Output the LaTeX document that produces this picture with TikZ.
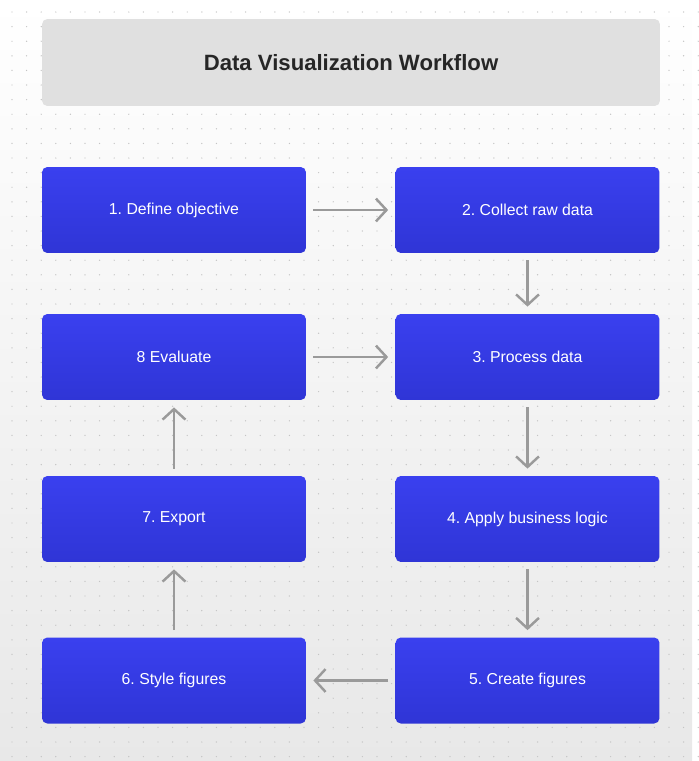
\documentclass[tikz,border=0pt]{standalone}
\usepackage{fontspec}
\usetikzlibrary{arrows.meta}
\newfontfamily\wffont{Liberation Sans}
\frenchspacing

\definecolor{stepblue}{HTML}{3A40EF}
\definecolor{stepbluedark}{HTML}{2F35D6}
\definecolor{titlegray}{HTML}{E0E0E0}
\definecolor{arrowgray}{HTML}{9A9A9A}
\definecolor{dotgray}{HTML}{C4C4C4}

\tikzset{
    stepbox/.style={rounded corners=3pt, top color=stepblue, bottom color=stepbluedark,
        draw=none, minimum width=5.28cm, minimum height=1.72cm, text=white,
        font=\wffont\fontsize{9}{11}\selectfont},
    flow/.style={draw=arrowgray, line width=1.4pt, shorten <=4pt, shorten >=4pt,
        -{Straight Barb[length=6pt, width=13pt, line width=1.4pt]}}
}

\begin{document}
\begin{tikzpicture}[x=0.02cm, y=-0.02cm]
            % background
            \shade[top color=white, bottom color=black!9] (0,0) rectangle (692,761);
            \foreach \i in {0,...,47} {
                \foreach \j in {0,...,51} {
                    \fill[dotgray] (12+14.6*\i, 12+14.6*\j) circle (0.7);
                }
            }
            \useasboundingbox (0,0) rectangle (692,761);

            % title
            \node[fill=titlegray, rounded corners=3pt, minimum width=12.36cm, minimum height=1.74cm,
                font=\wffont\bfseries\fontsize{12.6}{15}\selectfont, text=black!85] (title) at (351, 62.5) {Data Visualization Workflow};

            % steps
            \node[stepbox] (define) at (174, 210) {1. Define objective};
            \node[stepbox] (collect) at (527.5, 210) {2. Collect raw data};
            \node[stepbox] (evaluate) at (174, 357) {8 Evaluate};
            \node[stepbox] (process) at (527.5, 357) {3. Process data};
            \node[stepbox] (export) at (174, 519) {7. Export};
            \node[stepbox] (logic) at (527.5, 519) {4. Apply business logic};
            \node[stepbox] (stylefig) at (174, 680.5) {6. Style figures};
            \node[stepbox] (create) at (527.5, 680.5) {5. Create figures};

            % arrows
            \draw[flow] (define) -- (collect);
            \draw[flow] (collect) -- (process);
            \draw[flow] (process) -- (logic);
            \draw[flow] (logic) -- (create);
            \draw[flow] (create) -- (stylefig);
            \draw[flow] (stylefig) -- (export);
            \draw[flow] (export) -- (evaluate);
            \draw[flow] (evaluate) -- (process);
        \end{tikzpicture}
\end{document}
